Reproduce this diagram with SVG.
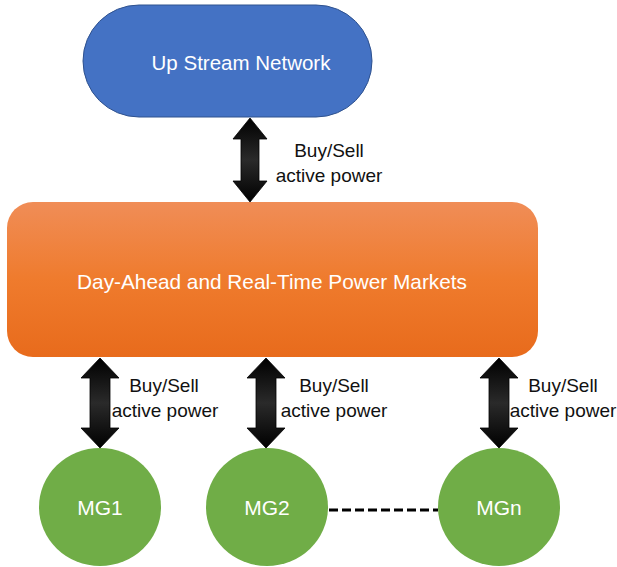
<svg xmlns="http://www.w3.org/2000/svg" width="617" height="567" viewBox="0 0 617 567">
<defs>
<linearGradient id="og" x1="0" y1="0" x2="0" y2="1">
<stop offset="0" stop-color="#F08D57"/>
<stop offset="0.5" stop-color="#EF7B2D"/>
<stop offset="1" stop-color="#E86B1C"/>
</linearGradient>
<linearGradient id="ag" x1="0" y1="0" x2="0" y2="1">
<stop offset="0" stop-color="#000"/>
<stop offset="0.5" stop-color="#2a2a2a"/>
<stop offset="1" stop-color="#000"/>
</linearGradient>
<style>
.lbl{font-family:"Liberation Sans",Arial,sans-serif;font-size:19px;fill:#111;text-anchor:middle}
.wt{font-family:"Liberation Sans",Arial,sans-serif;fill:#fff;text-anchor:middle}
.arr{fill:url(#ag);stroke:#000;stroke-width:0.8}
.mg{fill:#70AD47}
</style>
</defs>
<g id="upstream">
<rect x="83" y="5" width="289" height="112" rx="56" ry="56" fill="#4472C4" stroke="#2F528F" stroke-width="1"/>
<text class="wt" x="241" y="70" font-size="20.5">Up Stream Network</text>
</g>
<g id="market">
<rect x="7" y="202" width="531" height="155" rx="26" ry="26" fill="url(#og)"/>
<text class="wt" x="272" y="289" font-size="20.8">Day-Ahead and Real-Time Power Markets</text>
</g>
<g id="mg1"><ellipse class="mg" cx="100" cy="507" rx="61" ry="59"/><text class="wt" x="100" y="515" font-size="21">MG1</text></g>
<g id="mg2"><ellipse class="mg" cx="267" cy="507" rx="61" ry="59"/><text class="wt" x="267" y="515" font-size="21">MG2</text></g>
<g id="mgn"><ellipse class="mg" cx="499" cy="507" rx="61" ry="59"/><text class="wt" x="499" y="515" font-size="21">MGn</text></g>
<g id="connectors">
<path class="arr" d="M250 118 L267 139 L259 139 L259 181 L267 181 L250 202 L233 181 L241 181 L241 139 L233 139 Z"/>
<path class="arr" d="M100 358 L119 378 L110 378 L110 428 L119 428 L100 448 L81 428 L90 428 L90 378 L81 378 Z"/>
<path class="arr" d="M266 358 L285 378 L276 378 L276 428 L285 428 L266 448 L247 428 L256 428 L256 378 L247 378 Z"/>
<path class="arr" d="M499 358 L518 378 L509 378 L509 428 L518 428 L499 448 L480 428 L489 428 L489 378 L480 378 Z"/>
<line x1="329" y1="510" x2="438" y2="510" stroke="#000" stroke-width="3" stroke-dasharray="9,4"/>
<text class="lbl" x="329" y="157">Buy/Sell</text>
<text class="lbl" x="329" y="182">active power</text>
<text class="lbl" x="164" y="392">Buy/Sell</text>
<text class="lbl" x="165" y="417">active power</text>
<text class="lbl" x="334" y="392">Buy/Sell</text>
<text class="lbl" x="334" y="417">active power</text>
<text class="lbl" x="563" y="392">Buy/Sell</text>
<text class="lbl" x="563" y="417">active power</text>
</g>
</svg>
